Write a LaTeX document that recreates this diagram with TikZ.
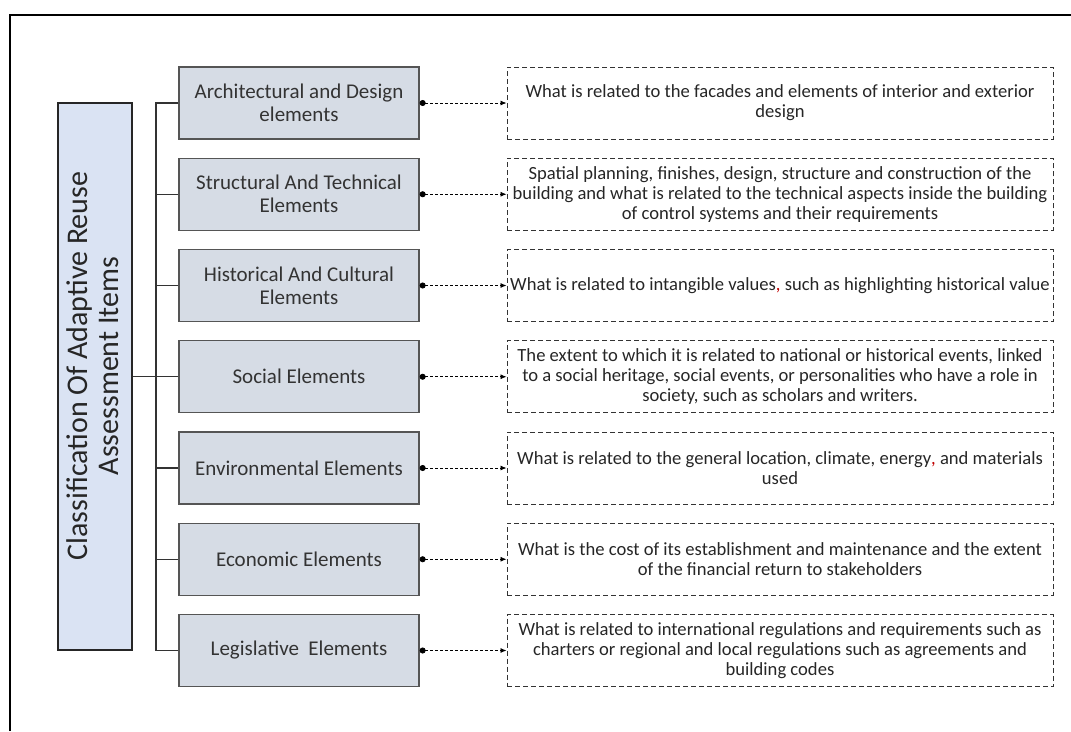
\documentclass[tikz,border=0pt]{standalone}
\usepackage{fontspec}
\setmainfont{Carlito}
\usetikzlibrary{arrows.meta,calc}
\definecolor{grayfill}{HTML}{D6DCE5}
\definecolor{bluefill}{HTML}{DAE3F3}
\definecolor{boxline}{HTML}{555555}
\definecolor{txtgray}{HTML}{333333}
\definecolor{redcomma}{HTML}{C00000}
\tikzset{
  mainbox/.style={draw=black!85, line width=1.3pt, fill=bluefill, minimum width=74pt, minimum height=547pt, inner sep=0pt},
  mainlabel/.style={rotate=90, align=center, text=black!85, font=\fontsize{30}{31}\selectfont},
  catbox/.style={draw=boxline, line width=1.3pt, fill=grayfill, minimum width=240pt, minimum height=72pt, inner sep=0pt, align=center, text=txtgray, font=\fontsize{21}{23}\selectfont},
  descbox/.style={draw=black!80, line width=1pt, dash pattern=on 5pt off 3pt, minimum width=546pt, minimum height=72pt, inner sep=0pt, align=center, text=black!85, font=\fontsize{18.6}{20}\selectfont},
  tree/.style={draw=black!80, line width=1.3pt},
  conn/.style={draw=black, line width=0.8pt, dash pattern=on 3pt off 2pt, {Circle[length=6pt]}-{Latex[length=6pt,width=5pt]}},
  frame/.style={draw=black, line width=2pt}
}
\begin{document}
\begin{tikzpicture}[x=1pt,y=-1pt]
\useasboundingbox (0,0) rectangle (1071,731);
\draw[frame] (10,731) -- (10,15) -- (1071,15);
% main box
\node[mainbox] (main) at (95,376.5) {};
\node[mainlabel] (mainlab) at (92.5,366) {Classification Of Adaptive Reuse\\Assessment Items};
% category boxes
\node[catbox] (g1) at (299,103) {Architectural and Design\\elements};
\node[catbox] (g2) at (299,194.25) {Structural And Technical\\Elements};
\node[catbox] (g3) at (299,285.5) {Historical And Cultural\\Elements};
\node[catbox] (g4) at (299,376.75) {Social Elements};
\node[catbox] (g5) at (299,468) {Environmental Elements};
\node[catbox] (g6) at (299,559.25) {Economic Elements};
\node[catbox] (g7) at (299,650.5) {Legislative\ \ Elements};
% description boxes
\node[descbox] (d1) at (780,103) {What is related to the facades and elements of interior and exterior\\design};
\node[descbox] (d2) at (780,194.25) {Spatial planning, finishes, design, structure and construction of the\\building and what is related to the technical aspects inside the building\\of control systems and their requirements};
\node[descbox] (d3) at (780,285.5) {What is related to intangible values{\color{redcomma},} such as highlighting historical value};
\node[descbox] (d4) at (780,376.75) {The extent to which it is related to national or historical events, linked\\to a social heritage, social events, or personalities who have a role in\\society, such as scholars and writers.};
\node[descbox] (d5) at (780,468) {What is related to the general location, climate, energy{\color{redcomma},} and materials\\used};
\node[descbox] (d6) at (780,559.25) {What is the cost of its establishment and maintenance and the extent\\of the financial return to stakeholders};
\node[descbox] (d7) at (780,650.5) {What is related to international regulations and requirements such as\\charters or regional and local regulations such as agreements and\\building codes};
% tree
\coordinate (sp) at (156,0);
\draw[tree] (main.east) -- (main.east -| sp);
\draw[tree] (g1.west) -- (g1.west -| sp) -- (g7.west -| sp) -- (g7.west);
\foreach \k in {2,...,6} { \draw[tree] (g\k.west) -- (g\k.west -| sp); }
% connectors
\foreach \k in {1,...,7} { \draw[conn] (g\k.east) -- (d\k.west); }
\end{tikzpicture}
\end{document}
